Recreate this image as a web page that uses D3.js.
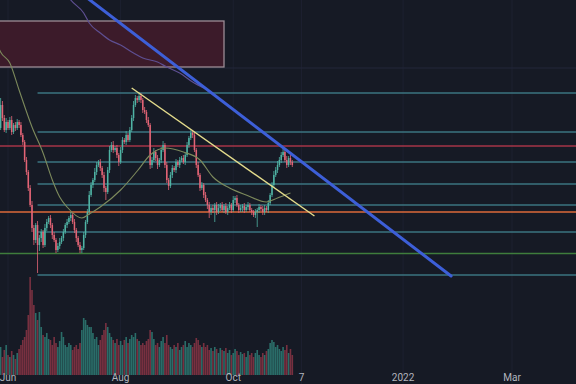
<!DOCTYPE html>
<html><head><meta charset="utf-8">
<script src="https://cdn.jsdelivr.net/npm/d3@7"></script>
<style>html,body{margin:0;padding:0;background:#161a25;overflow:hidden}svg{display:block}</style>
</head><body><svg id="c" width="576" height="384"></svg>
<script>
// ---------- DATA ----------
const startDate = "2021-05-27";
const firstOpen = 2.70;
const closes = [
2.72,2.95,2.82,2.70,2.78,2.72,
2.80,2.68,2.75,2.72,2.78,2.75,
2.65,2.58,2.40,2.28,2.12,1.95,
1.72,1.60,1.75,1.55,1.62,
1.68,1.55,1.72,1.78,1.82,
1.75,1.65,1.60,1.50,1.54,1.58,
1.62,1.68,1.75,1.78,1.82,
1.85,1.78,1.70,1.62,1.55,1.50,
1.52,1.65,1.78,1.88,2.05,
2.15,2.20,2.28,2.35,2.38,2.32,
2.25,2.12,2.08,2.30,2.50,
2.55,2.50,2.52,2.45,2.38,2.50,
2.60,2.58,2.65,2.60,2.70,
2.82,2.95,3.02,3.00,3.04,3.00,
2.90,2.88,2.80,2.75,2.35,
2.40,2.48,2.42,2.35,2.40,2.50,
2.55,2.35,2.20,2.14,2.25,
2.32,2.30,2.38,2.35,2.40,2.42,
2.38,2.45,2.55,2.62,2.67,
2.65,2.50,2.35,2.25,2.12,2.15,
2.05,2.00,1.95,1.88,1.92,
1.90,1.95,1.88,1.92,1.95,1.90,
1.94,1.88,1.92,1.95,1.90,
2.00,2.02,1.95,1.90,1.92,1.94,
1.90,1.93,1.95,1.90,1.88,
1.85,1.88,1.90,1.93,1.91,1.88,
1.92,1.90,1.97,2.05,2.15,
2.25,2.30,2.35,2.40,2.45,2.48,
2.40,2.35,2.42,2.38,2.35];
// wick lengths above / below the body, in hundredths
const wickUp = [
3,7,4,3,4,2, 3,4,2,3,3,2, 3,2,2,3,2,3, 4,3,2,4,3, 3,2,4,3,2,
3,2,3,2,3,4, 2,3,2,3,2, 3,2,3,2,2,3, 2,3,2,3,4, 3,2,4,3,2,3,
2,3,2,3,4, 3,4,2,3,2,3, 3,2,4,2,3, 3,4,3,2,4,3, 2,3,2,3,2,
3,4,2,3,2,3, 4,2,3,2,3, 3,2,3,2,3,2, 3,2,3,2,3, 2,3,2,3,2,3,
2,3,2,3,2, 3,2,3,4,2,3, 2,3,2,3,2, 4,2,3,2,3,2, 3,2,3,2,2,
2,3,2,3,2,3, 3,2,3,2,3, 4,3,4,3,3,5, 3,4,2,3,2];
const wickDn = [
3,2,3,2,3,2, 2,3,2,3,2,3, 2,3,2,3,3,2, 4,5,3,28,6, 4,3,2,3,2,
3,4,2,3,2,3, 2,3,2,3,2, 3,2,3,4,2,3, 3,2,3,2,3, 2,3,2,3,2,3,
3,4,8,2,3, 2,3,2,3,4,2, 3,2,3,2,2, 2,3,2,3,2,3, 3,2,3,2,4,
3,2,3,4,2,3, 2,3,3,4,2, 3,2,3,2,3,2, 2,3,2,3,2, 3,2,3,2,3,2,
3,2,4,6,3, 3,12,3,2,3,2, 3,2,3,2,3, 2,3,2,3,2,4, 3,2,3,2,3,
2,3,15,3,2,3, 3,2,3,2,2, 3,2,3,2,3,2, 2,3,2,3,2];
const volumes = [
22,28,18,25,30,20, 18,24,20,16,22,26, 30,35,38,45,60,98, 85,70,62,55,63, 48,40,38,42,36,
35,30,38,32,28,34, 43,38,30,28,32, 30,25,28,30,26,32, 45,57,55,50,48, 48,42,36,38,30,35,
40,45,52,48,42, 38,35,32,36,30,34, 30,35,38,32,36, 40,38,42,36,34,30, 32,30,34,36,45,
43,36,30,32,28,34, 38,32,40,30,28, 26,30,28,32,25,28, 30,34,28,32,30, 28,32,37,35,30,28,
32,28,30,25,27, 24,28,26,22,27,25, 24,27,22,25,20, 22,26,24,20,23,21, 22,18,24,20,22,
18,22,25,20,18,22, 20,24,26,32,35, 33,28,30,26,24,28, 25,30,22,26,20];

const tickDates  = ["2021-06-01","2021-08-01","2021-10-01","2021-11-07","2022-01-01","2022-03-01"];
const tickLabels = ["Jun","Aug","Oct","7","2022","Mar"];
const gridPrices = [3.32];

const fibStart = "2021-06-17";
const fibLevels = [3.07, 2.68, 2.38, 2.16, 1.95, 1.68, 1.25];
const keyLevels = [2.54, 1.88, 1.465];           // red, orange, green

const zoneStart = "2021-05-20", zoneEnd = "2021-09-26";
const zoneTop = 3.79, zoneBottom = 3.33;

const blueTrendDates  = ["2021-07-04","2022-01-27"];
const blueTrendPrices = [4.16, 1.24];
const yellowTrendDates  = ["2021-08-07","2021-11-14"];
const yellowTrendPrices = [3.12, 1.84];

const maFastDays = [-5,-4,1,6,13,19,24,28,32,40,44,50,61,70,77,85,95,104,111,120,129,140,146,153];
const maFastVals = [3.52,3.48,3.37,3.10,2.73,2.47,2.20,2.03,1.93,1.82,1.86,1.93,2.10,2.29,2.45,2.52,2.48,2.40,2.23,2.12,2.05,1.98,2.02,2.07];
const maSlowDays = [31,34,41,44,50,55,61,68,73,81,86,93,100,106];
const maSlowVals = [4.08,4.00,3.87,3.77,3.67,3.60,3.55,3.47,3.42,3.38,3.33,3.27,3.18,3.12];

// ---------- CHART ----------
const W = 576, H = 384;
const parse = d3.utcParse("%Y-%m-%d");
const svg = d3.select("#c");
const x = d3.scaleUtc().domain([parse("2021-06-01"), parse("2022-03-01")]).range([8, 512]);
const y = d3.scaleLinear().domain([0.16, 4.0]).range([384, 0]);
const yv = d3.scaleLinear().domain([0, 120]).range([375, 255]);
const start = parse(startDate);
const jun1 = parse("2021-06-01");
const dayOf = k => d3.utcDay.offset(jun1, k);

const candles = closes.map((c, i) => {
  const o = i === 0 ? firstOpen : closes[i - 1];
  return {date: d3.utcDay.offset(start, i), o, c,
          h: Math.max(o, c) + wickUp[i] / 100,
          l: Math.min(o, c) - wickDn[i] / 100,
          v: volumes[i]};
});

svg.append("rect").attr("width", W).attr("height", H).attr("fill", "#161a25");

// grid
const g = svg.append("g");
g.selectAll(".vg").data(tickDates).join("line")
  .attr("x1", d => x(parse(d))).attr("x2", d => x(parse(d)))
  .attr("y1", 0).attr("y2", H).attr("stroke", "#1d2130").attr("stroke-width", 1);
g.selectAll(".hg").data(gridPrices).join("line")
  .attr("x1", 0).attr("x2", W).attr("y1", d => y(d)).attr("y2", d => y(d))
  .attr("stroke", "#22263a").attr("stroke-width", 1);

// zone box
svg.append("rect")
  .attr("x", x(parse(zoneStart))).attr("y", y(zoneTop))
  .attr("width", x(parse(zoneEnd)) - x(parse(zoneStart)))
  .attr("height", y(zoneBottom) - y(zoneTop))
  .attr("fill", "#3c1b2a").attr("stroke", "#9c8c96").attr("stroke-width", 1.3);

// levels
svg.selectAll(".fib").data(fibLevels).join("line")
  .attr("x1", x(parse(fibStart))).attr("x2", W)
  .attr("y1", d => y(d)).attr("y2", d => y(d))
  .attr("stroke", "#3b7480").attr("stroke-width", 1.4);
const keyColors = ["#a63447", "#dd6a3a", "#3f7d3c"];
svg.selectAll(".key").data(keyLevels).join("line")
  .attr("x1", 0).attr("x2", W)
  .attr("y1", d => y(d)).attr("y2", d => y(d))
  .attr("stroke", (d, i) => keyColors[i]).attr("stroke-width", 1.5);

// volume
const up = "#4fb3a4", dn = "#e36476";
svg.selectAll(".vol").data(candles).join("rect")
  .attr("x", d => x(d.date) - 0.8).attr("width", 1.6)
  .attr("y", d => yv(d.v)).attr("height", d => yv(0) - yv(d.v))
  .attr("fill", d => d.c >= d.o ? "#2e7d76" : "#8a3545").attr("opacity", 0.85);

// candles
const cg = svg.append("g");
cg.selectAll(".wick").data(candles).join("line")
  .attr("x1", d => x(d.date)).attr("x2", d => x(d.date))
  .attr("y1", d => y(d.h)).attr("y2", d => y(d.l))
  .attr("stroke", d => d.c >= d.o ? up : dn).attr("stroke-width", 0.8);
cg.selectAll(".body").data(candles).join("rect")
  .attr("x", d => x(d.date) - 0.75).attr("width", 1.5)
  .attr("y", d => y(Math.max(d.o, d.c)))
  .attr("height", d => Math.max(1, Math.abs(y(d.o) - y(d.c))))
  .attr("fill", d => d.c >= d.o ? up : dn);

// moving averages
const maLine = d3.line().x(d => x(dayOf(d[0]))).y(d => y(d[1])).curve(d3.curveMonotoneX);
svg.append("path").datum(maSlowDays.map((k, i) => [k, maSlowVals[i]]))
  .attr("d", maLine).attr("fill", "none").attr("stroke", "#5e4f92").attr("stroke-width", 1.2);
svg.append("path").datum(maFastDays.map((k, i) => [k, maFastVals[i]]))
  .attr("d", maLine).attr("fill", "none").attr("stroke", "#7d8a5c").attr("stroke-width", 1.1);

// trend lines
const tl = d3.line().x(d => x(parse(d[0]))).y(d => y(d[1]));
svg.append("path").datum(yellowTrendDates.map((d, i) => [d, yellowTrendPrices[i]]))
  .attr("d", tl).attr("fill", "none").attr("stroke", "#e4dc8c").attr("stroke-width", 1.4);
svg.append("path").datum(blueTrendDates.map((d, i) => [d, blueTrendPrices[i]]))
  .attr("d", tl).attr("fill", "none").attr("stroke", "#3d5fd8").attr("stroke-width", 3)
  .attr("stroke-linecap", "round");

// time axis labels (at the bottom edge, as in the reference)
svg.selectAll(".tl").data(tickDates).join("text")
  .attr("x", d => x(parse(d))).attr("y", 381)
  .attr("text-anchor", "middle")
  .attr("font-family", "Roboto, 'DejaVu Sans', sans-serif").attr("font-size", 10)
  .attr("fill", "#b2b5be")
  .text((d, i) => tickLabels[i]);
</script></body></html>
